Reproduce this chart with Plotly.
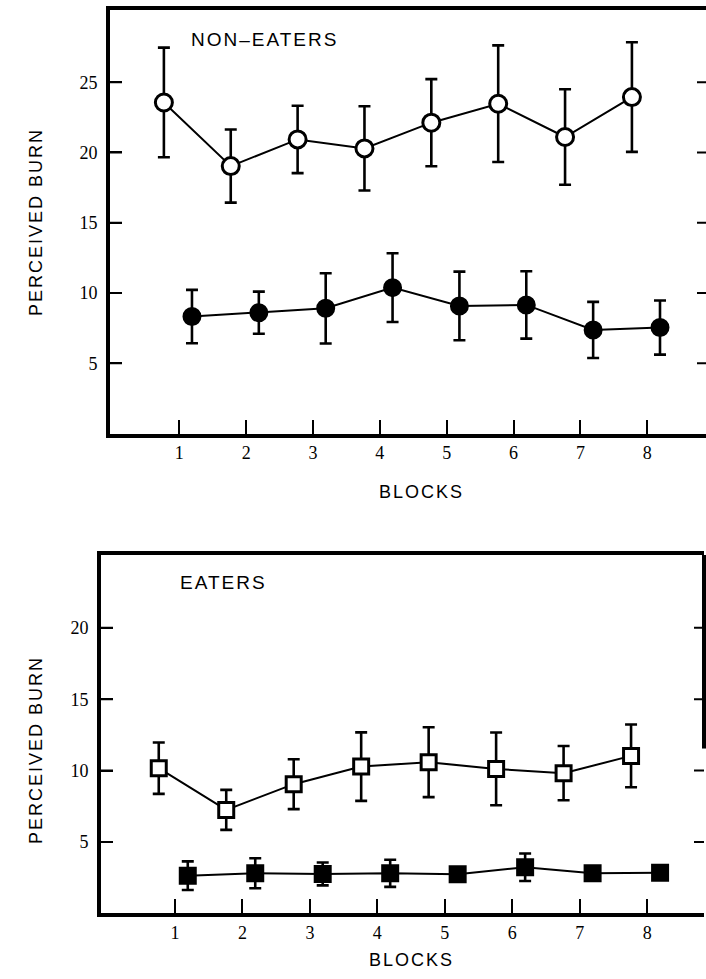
import plotly.graph_objects as go

# ---------------- data ----------------
blocks = [1, 2, 3, 4, 5, 6, 7, 8]
block_labels = ["1", "2", "3", "4", "5", "6", "7", "8"]

# NON-EATERS panel
non_open_mean = [23.56, 19.03, 20.93, 20.29, 22.12, 23.47, 21.10, 23.94]
non_open_err = [3.9, 2.6, 2.4, 3.0, 3.1, 4.15, 3.4, 3.9]
non_fill_mean = [8.32, 8.60, 8.91, 10.38, 9.08, 9.15, 7.37, 7.54]
non_fill_err = [1.9, 1.5, 2.5, 2.45, 2.44, 2.4, 2.0, 1.93]

# EATERS panel
eat_open_mean = [10.17, 7.25, 9.05, 10.28, 10.59, 10.12, 9.82, 11.03]
eat_open_err = [1.8, 1.4, 1.75, 2.4, 2.45, 2.55, 1.9, 2.2]
eat_fill_mean = [2.64, 2.81, 2.76, 2.81, 2.74, 3.23, 2.81, 2.85]
eat_fill_err = [1.0, 1.05, 0.8, 0.95, 0.4, 0.96, 0.4, 0.4]

top_yticks = [5, 10, 15, 20, 25]
bot_yticks = [5, 10, 15, 20]

# ---------------- styles ----------------
W, H = 706, 979
OPEN_SHIFT = -0.23
FILL_SHIFT = 0.19
SANS = "Liberation Sans, Arial, sans-serif"
SERIF = "Liberation Serif, Times New Roman, serif"


def shifted(xs, d):
    return [x + d for x in xs]


def trace(x, y, err, symbol, fill, xa, ya, size):
    return go.Scatter(
        x=x, y=y, mode="lines+markers", xaxis=xa, yaxis=ya,
        line=dict(color="black", width=2),
        marker=dict(symbol=symbol, size=size, color=fill,
                    line=dict(color="black", width=3)),
        error_y=dict(type="data", array=err, visible=True, color="black",
                     thickness=2.6, width=6),
        showlegend=False, hoverinfo="skip",
    )


fig = go.Figure()
fig.add_trace(trace(shifted(blocks, OPEN_SHIFT), non_open_mean, non_open_err,
                    "circle", "white", "x", "y", 17))
fig.add_trace(trace(shifted(blocks, FILL_SHIFT), non_fill_mean, non_fill_err,
                    "circle", "black", "x", "y", 16))
fig.add_trace(trace(shifted(blocks, OPEN_SHIFT - 0.01), eat_open_mean, eat_open_err,
                    "square", "white", "x2", "y2", 15))
fig.add_trace(trace(shifted(blocks, FILL_SHIFT), eat_fill_mean, eat_fill_err,
                    "square", "black", "x2", "y2", 15))

xcommon = dict(tickmode="array", tickvals=blocks, ticktext=block_labels,
               ticks="inside", ticklen=14, tickwidth=2, tickcolor="black",
               showline=True, linewidth=4, linecolor="black", mirror=True,
               showgrid=False, zeroline=False,
               tickfont=dict(family=SERIF, size=18, color="black"))
ycommon = dict(ticks="inside", ticklen=12, tickwidth=2, tickcolor="black",
               showline=True, linewidth=4, linecolor="black", mirror=False,
               showgrid=False, zeroline=False, ticklabelstandoff=5,
               tickfont=dict(family=SERIF, size=18, color="black"))

top_px, top_bot = 10, 433.5
bot_px, bot_bot = 555, 913.4

fig.update_layout(
    width=W, height=H, paper_bgcolor="white", plot_bgcolor="white",
    margin=dict(l=0, r=0, t=0, b=0),
    xaxis=dict(xcommon, domain=[110 / W, 1.0], range=[-0.036, 8.878], anchor="y"),
    yaxis=dict(ycommon, domain=[(H - top_bot) / H, (H - top_px) / H],
               range=[0, 30.14], tickvals=top_yticks, anchor="x"),
    xaxis2=dict(xcommon, domain=[101 / W, 704 / W], range=[-0.096, 8.841], anchor="y2"),
    yaxis2=dict(ycommon, domain=[(H - bot_bot) / H, (H - bot_px) / H],
                range=[0, 25.1], tickvals=bot_yticks, anchor="x2"),
)

shapes = []
for v in top_yticks:
    for a, b in ((0, 12 / 596), (1 - 9 / 596, 1)):
        shapes.append(dict(type="line", xref="x domain", yref="y",
                           x0=a, x1=b, y0=v, y1=v,
                           line=dict(color="black", width=2)))
for v in bot_yticks:
    for a, b in ((0, 12 / 603), (1 - 10 / 603, 1)):
        shapes.append(dict(type="line", xref="x2 domain", yref="y2",
                           x0=a, x1=b, y0=v, y1=v,
                           line=dict(color="black", width=2)))
# visible part of the right border of the lower frame
shapes.append(dict(type="line", xref="x2 domain", yref="y2 domain",
                   x0=1, x1=1, y0=0.46, y1=1,
                   line=dict(color="black", width=4)))
fig.update_layout(shapes=shapes)


def spaced(t, px=2):
    return f'<span style="letter-spacing:{px}px">{t}</span>'


ann = []
ann.append(dict(text=spaced("NON–EATERS"), xref="paper", yref="paper",
                x=189 / W, y=(H - 40) / H, xanchor="left", yanchor="middle",
                showarrow=False, font=dict(family=SANS, size=19, color="black")))
ann.append(dict(text=spaced("EATERS"), xref="paper", yref="paper",
                x=178 / W, y=(H - 582) / H, xanchor="left", yanchor="middle",
                showarrow=False, font=dict(family=SANS, size=19, color="black")))
for yc in (222, 750):
    ann.append(dict(text=spaced("PERCEIVED BURN"), xref="paper", yref="paper",
                    x=36 / W, y=(H - yc) / H, xanchor="center", yanchor="middle",
                    textangle=-90, showarrow=False,
                    font=dict(family=SANS, size=18, color="black")))
for xc, yc in ((421, 492), (411, 960)):
    ann.append(dict(text=spaced("BLOCKS"), xref="paper", yref="paper",
                    x=xc / W, y=(H - yc) / H, xanchor="center", yanchor="middle",
                    showarrow=False, font=dict(family=SANS, size=18, color="black")))
fig.update_layout(annotations=ann)

fig.write_html(
    "out.html",
    config={"displayModeBar": False},
    post_script="document.body.style.margin='0';document.body.style.padding='0';"
                "document.body.style.overflow='hidden';",
)
